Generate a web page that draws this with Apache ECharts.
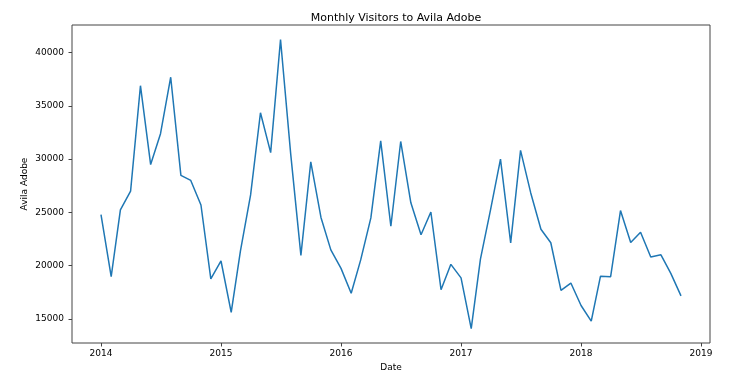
<!DOCTYPE html>
<html>
<head>
<meta charset="utf-8">
<script src="https://cdn.jsdelivr.net/npm/echarts@6/dist/echarts.min.js"></script>
<style>
html,body{margin:0;padding:0;background:#fff;}
#chart{width:749px;height:391px;}
</style>
</head>
<body>
<div id="chart"></div>
<script>
// Monthly dates (first of month), 2014-01 .. 2018-11
const months = [
  '2014-01','2014-02','2014-03','2014-04','2014-05','2014-06','2014-07','2014-08','2014-09','2014-10','2014-11','2014-12',
  '2015-01','2015-02','2015-03','2015-04','2015-05','2015-06','2015-07','2015-08','2015-09','2015-10','2015-11','2015-12',
  '2016-01','2016-02','2016-03','2016-04','2016-05','2016-06','2016-07','2016-08','2016-09','2016-10','2016-11','2016-12',
  '2017-01','2017-02','2017-03','2017-04','2017-05','2017-06','2017-07','2017-08','2017-09','2017-10','2017-11','2017-12',
  '2018-01','2018-02','2018-03','2018-04','2018-05','2018-06','2018-07','2018-08','2018-09','2018-10','2018-11'
];
const visitors = [
  24778,18976,25231,26989,36883,29487,32378,37680,28473,27995,25691,18754,
  20438,15625,21369,26634,34345,30600,41223,30470,20961,29735,24524,21480,
  19748,17407,20542,24478,31711,23697,31651,25902,22894,25036,17748,20123,
  18851,14100,20606,25284,30003,22140,30823,26824,23420,22151,17677,18369,
  16265,14800,19001,18966,25173,22171,23136,20815,21020,19280,17163
];
const xTicks = [2014, 2015, 2016, 2017, 2018, 2019];
const yTicks = [15000, 20000, 25000, 30000, 35000, 40000];

function fracYear(s) {
  const [y, m] = s.split('-').map(Number);
  const start = Date.UTC(y, 0, 1), end = Date.UTC(y + 1, 0, 1);
  return y + (Date.UTC(y, m - 1, 1) - start) / (end - start);
}
const pts = months.map((d, i) => [fracYear(d), visitors[i]]);
const xs = pts.map(p => p[0]);
const xMin0 = Math.min(...xs), xMax0 = Math.max(...xs);
const xPad = (xMax0 - xMin0) * 0.05;
const yMin0 = Math.min(...visitors), yMax0 = Math.max(...visitors);
const yPad = (yMax0 - yMin0) * 0.05;

const font = 'DejaVu Sans';
const chart = echarts.init(document.getElementById('chart'), null, {renderer: 'canvas'});
chart.setOption({
  animation: false,
  backgroundColor: '#fff',
  title: {
    text: 'Monthly Visitors to Avila Adobe',
    left: 391, top: 8, textAlign: 'center',
    textStyle: {fontFamily: font, fontSize: 11, fontWeight: 'normal', color: '#000'}
  },
  grid: {left: 72, right: 39, top: 25, bottom: 48, show: true, borderColor: '#444', borderWidth: 1, backgroundColor: 'transparent'},
  xAxis: {
    type: 'value',
    min: xMin0 - xPad, max: xMax0 + xPad,
    name: 'Date', nameLocation: 'middle', nameGap: 20, nameMoveOverlap: false,
    nameTextStyle: {fontFamily: font, fontSize: 9, color: '#000'},
    axisLine: {show: false},
    axisTick: {show: true, length: 3.5, lineStyle: {color: '#444'}, customValues: xTicks},
    axisLabel: {fontFamily: font, fontSize: 9, color: '#000', margin: 6, customValues: xTicks, formatter: v => String(Math.round(v))},
    splitLine: {show: false}
  },
  yAxis: {
    type: 'value',
    min: yMin0 - yPad, max: yMax0 + yPad,
    name: 'Avila Adobe', nameLocation: 'middle', nameGap: 43, nameMoveOverlap: false,
    nameTextStyle: {fontFamily: font, fontSize: 9, color: '#000'},
    axisLine: {show: false},
    axisTick: {show: true, length: 3.5, lineStyle: {color: '#444'}, customValues: yTicks},
    axisLabel: {fontFamily: font, fontSize: 9, color: '#000', margin: 8, customValues: yTicks, formatter: v => String(Math.round(v))},
    splitLine: {show: false}
  },
  series: [{
    type: 'line',
    data: pts,
    showSymbol: false,
    lineStyle: {color: '#1f77b4', width: 1.5},
    itemStyle: {color: '#1f77b4'}
  }]
});
</script>
</body>
</html>
